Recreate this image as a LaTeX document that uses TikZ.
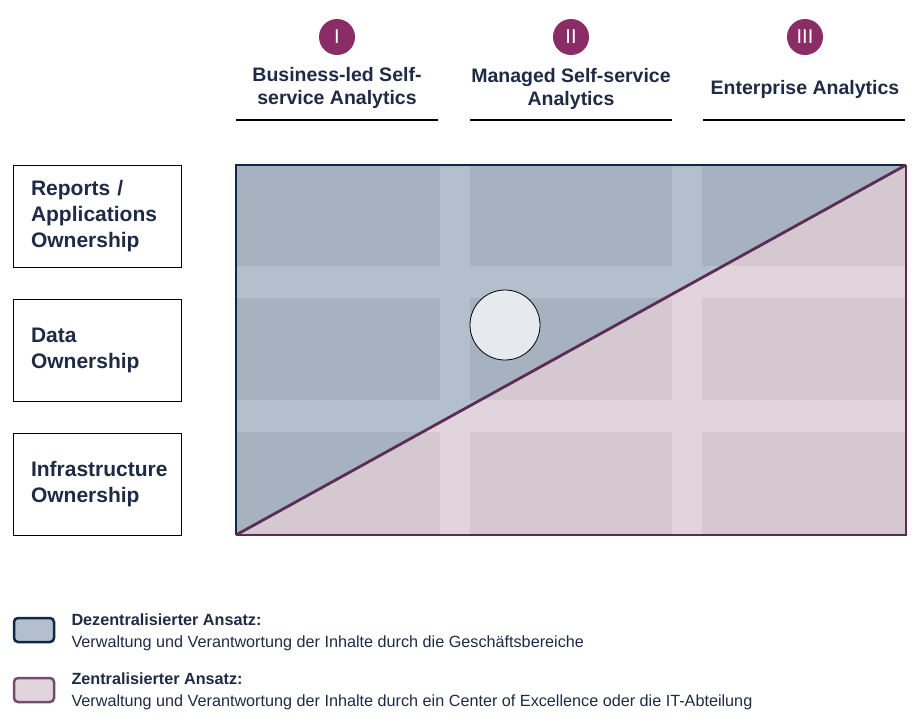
\documentclass[tikz,border=0pt]{standalone}
\usepackage{fontspec}
\setmainfont{Liberation Sans}
\usetikzlibrary{positioning}
\definecolor{navy}{HTML}{0B2A48}
\definecolor{plum}{HTML}{5B2D55}
\definecolor{numfill}{HTML}{8A2C65}
\definecolor{txt}{HTML}{1F2A44}
\definecolor{bluecell}{HTML}{A6B2BF}
\definecolor{bluegap}{HTML}{B3BFCC}
\definecolor{pinkcell}{HTML}{D6C8D0}
\definecolor{pinkgap}{HTML}{E2D4DD}

\begin{document}
\begin{tikzpicture}[x=1pt, y=-1pt,
    rowlabel/.style={draw=black, line width=0.9pt, minimum width=168pt, minimum height=102pt,
      text width=132pt, inner xsep=18pt, inner ysep=0pt, align=left, text=txt,
      font=\fontsize{21}{26}\selectfont\bfseries},
    colhead/.style={align=center, text=txt, font=\fontsize{19.5}{23}\selectfont\bfseries},
    numdot/.style={circle, fill=numfill, minimum size=36pt, inner sep=0pt, text=white,
      font=\fontsize{20}{20}\selectfont},
    legbox/.style={draw, rounded corners=4pt, line width=2.5pt, minimum width=40pt, minimum height=24pt},
    legtext/.style={anchor=west, align=left, text=txt, font=\fontsize{16.2}{22}\selectfont}]
            \useasboundingbox (0,0) rectangle (924,723);

            % Corners of the field
            \coordinate (nw) at (236,165);
            \coordinate (ne) at (906,165);
            \coordinate (sw) at (236,535);
            \coordinate (se) at (906,535);

            % Blue field with grid
            \fill[bluegap] (nw) rectangle (se);
            \foreach \xa/\xb in {236/440, 470/672, 702/906}
              \foreach \ya/\yb in {165/266, 298/400, 432/535}
                \fill[bluecell] (\xa,\ya) rectangle (\xb,\yb);

            % Pink triangle with grid
            \begin{scope}
              \clip (sw) -- (ne) -- (se) -- cycle;
              \fill[pinkgap] (nw) rectangle (se);
              \foreach \xa/\xb in {236/440, 470/672, 702/906}
                \foreach \ya/\yb in {165/266, 298/400, 432/535}
                  \fill[pinkcell] (\xa,\ya) rectangle (\xb,\yb);
            \end{scope}

            % Borders and diagonal
            \draw[navy, line width=2.5pt] (sw) -- (nw) -- (ne);
            \draw[plum, line width=2.5pt] (ne) -- (se) -- (sw);
            \draw[plum, line width=2.8pt] (sw) -- (ne);

            % Marker
            \node[circle, draw=black, line width=0.8pt, fill=white!72!bluecell, minimum size=70pt] (mark) at (505,325) {};

            % Column heads
            \node[numdot] (n1) at (337,37) {I};
            \node[numdot] (n2) at (571,37) {II};
            \node[numdot] (n3) at (805,37) {III};
            \node[colhead] (h1) at (337,88) {Business-led Self-\\service Analytics};
            \node[colhead] (h2) at (571,89) {Managed Self-service\\Analytics};
            \node[colhead] (h3) at (805,89) {Enterprise Analytics};
            \draw[line width=1.8pt] (236,120) -- (438,120);
            \draw[line width=1.8pt] (470,120) -- (672,120);
            \draw[line width=1.8pt] (703,120) -- (905,120);

            % Row labels
            \node[rowlabel] (r1) at (97,216) {Reports /\\Applications\\Ownership};
            \node[rowlabel] (r2) at (97,350) {Data\\Ownership};
            \node[rowlabel] (r3) at (97,484) {Infrastructure\\Ownership};

            % Legend
            \node[legbox, draw=navy, fill=bluegap] (k1) at (34,630) {};
            \node[legbox, draw=plum!85, fill=pinkgap] (k2) at (34,690) {};
            \node[legtext] (t1) at (68,632) {\textbf{Dezentralisierter Ansatz:}\\Verwaltung und Verantwortung der Inhalte durch die Geschäftsbereiche};
            \node[legtext] (t2) at (68,691) {\textbf{Zentralisierter Ansatz:}\\Verwaltung und Verantwortung der Inhalte durch ein Center of Excellence oder die IT-Abteilung};
        \end{tikzpicture}
\end{document}
